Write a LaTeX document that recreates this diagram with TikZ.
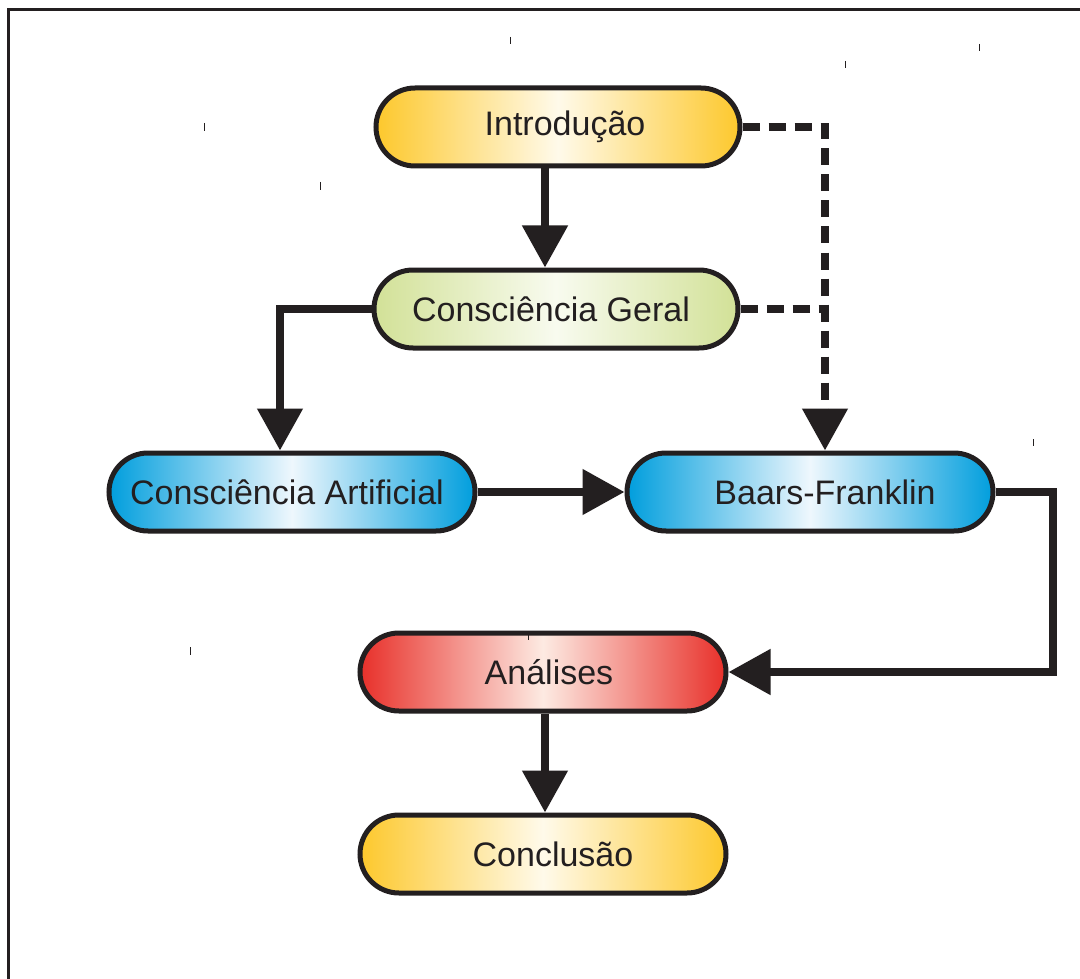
\documentclass[tikz,border=0pt]{standalone}
\usepackage{fontspec}
\setmainfont{Liberation Sans}
\usetikzlibrary{shapes.misc,arrows.meta}
\definecolor{ink}{HTML}{231F20}
\definecolor{gold}{HTML}{FDC82C}
\definecolor{goldmid}{HTML}{FFFAEA}
\definecolor{lgreen}{HTML}{D2E197}
\definecolor{greenmid}{HTML}{F8FBEF}
\definecolor{cyanb}{HTML}{009EDD}
\definecolor{cyanmid}{HTML}{EEF7FD}
\definecolor{redb}{HTML}{E8302A}
\definecolor{redmid}{HTML}{FDEAE2}
\tikzset{
  pill/.style={rounded rectangle, draw=ink, line width=5pt, minimum width=364pt,
    minimum height=78pt, inner sep=0pt, text=ink, font=\fontsize{34}{40}\selectfont},
  yellowpill/.style={pill, left color=gold, right color=gold, middle color=goldmid},
  greenpill/.style={pill, left color=lgreen, right color=lgreen, middle color=greenmid},
  bluepill/.style={pill, left color=cyanb, right color=cyanb, middle color=cyanmid},
  redpill/.style={pill, left color=redb, right color=redb, middle color=redmid},
  conn/.style={draw=ink, line width=8pt, line join=miter, -{Triangle[length=42pt,width=44pt]}},
  dashconn/.style={draw=ink, line width=8pt, dash pattern=on 17pt off 9pt},
  tick/.style={draw=ink, line width=1pt}
}
\begin{document}
\begin{tikzpicture}[x=1pt,y=-1pt]
\useasboundingbox (0,0) rectangle (1080,979);
\fill[white] (0,0) rectangle (1080,979);
% frame
\draw[ink, line width=3pt] (8.5,979) -- (8.5,9.5) -- (1080,9.5);
% nodes
\node[yellowpill] (intro) at (558,127) {\hspace*{14pt}Introdução};
\node[greenpill] (geral) at (556,309) {Consciência Geral\hspace*{10pt}};
\node[bluepill, minimum width=366pt] (art) at (292,492) {Consciência Artificial\hspace*{10pt}};
\node[bluepill, minimum width=366pt] (baars) at (810,492) {\hspace*{30pt}Baars-Franklin};
\node[redpill, minimum width=366pt] (anal) at (543,672) {\hspace*{12pt}Análises};
\node[yellowpill, minimum width=366pt] (conc) at (543,854) {\hspace*{20pt}Conclusão};
% helper coordinates
\coordinate (xa) at (545,0);
\coordinate (xb) at (280,0);
\coordinate (xd) at (825,0);
\coordinate (xr) at (1053,0);
\coordinate (dashend) at (825,410);
% solid connectors
\draw[conn] (intro.south -| xa) -- (geral.north -| xa);
\draw[conn] (geral.west) -| (art.north -| xb);
\draw[conn] (art.east) -- (baars.west);
\draw[conn] (baars.east) -- (baars.east -| xr) |- (anal.east);
\draw[conn] (anal.south -| xa) -- (conc.north -| xa);
% dashed connectors
\draw[dashconn] (geral.east) -- (geral.east -| xd);
\draw[dashconn, line join=miter] (intro.east) -- (intro.east -| xd) -- (dashend);
\draw[conn] ([yshift=1pt]dashend) -- (baars.north -| xd);
% small stray ticks
\draw[tick] (510,37) -- (510,44);
\draw[tick] (979,44) -- (979,51);
\draw[tick] (845,61) -- (845,68);
\draw[tick] (204,123) -- (204,131);
\draw[tick] (320,182) -- (320,190);
\draw[tick] (1033,439) -- (1033,446);
\draw[tick] (190,647) -- (190,655);
\draw[tick] (528,633) -- (528,640);
\end{tikzpicture}
\end{document}
